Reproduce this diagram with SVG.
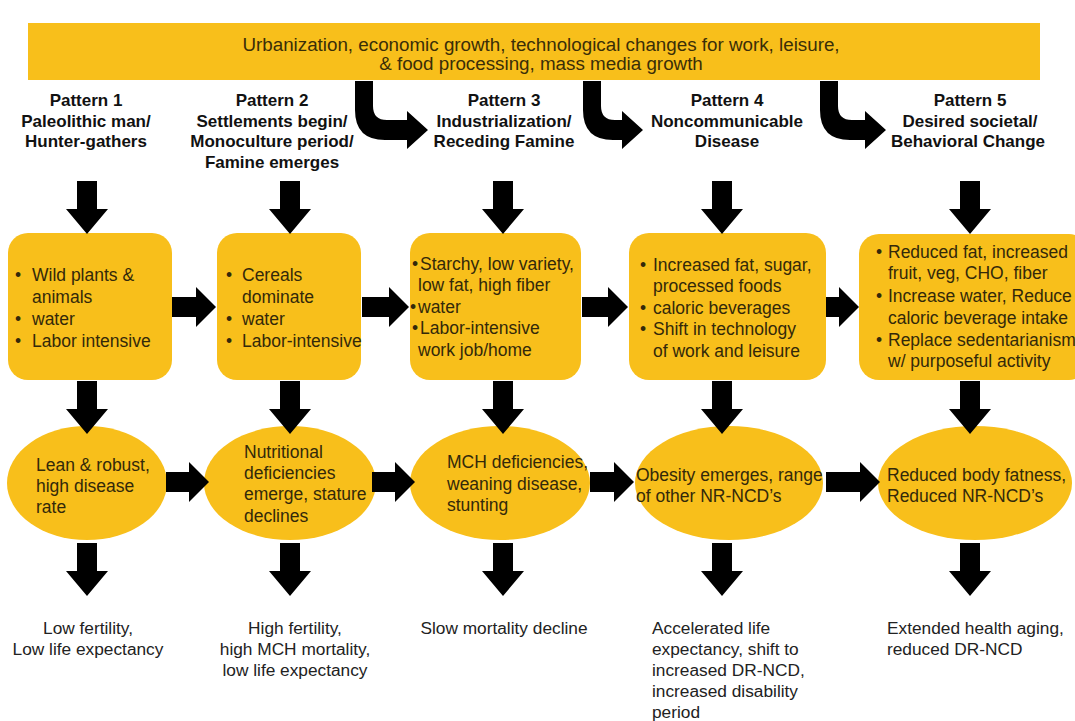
<svg xmlns="http://www.w3.org/2000/svg" width="1075" height="721" viewBox="0 0 1075 721">
<style>
.y{fill:#F8BF1B}
.ar{fill:#000}
.ban{font-family:"Liberation Sans",Arial,sans-serif;font-size:18.8px;fill:#3a2e08;text-anchor:middle}
.hd{font-family:"Liberation Sans",Arial,sans-serif;font-size:17px;font-weight:bold;fill:#111;text-anchor:middle}
.bx{font-family:"Liberation Sans",Arial,sans-serif;font-size:17.5px;fill:#33290a}
.bt{font-family:"Liberation Sans",Arial,sans-serif;font-size:17.3px;fill:#222}
.c{text-anchor:middle}
</style>
<defs>
<path id="down" d="M-10,0 H10 V28 H21 L0,53 L-21,28 H-10 Z"/>
</defs>
<rect width="1075" height="721" fill="#fff"/>

<g id="banner">
<rect class="y" x="28" y="23" width="1012" height="57"/>
<text class="ban" x="541" y="51">Urbanization, economic growth, technological changes for work, leisure,</text>
<text class="ban" x="541" y="70">&amp; food processing, mass media growth</text>
</g>

<g id="headers">
<g id="header1"><text class="hd" x="86" y="106">Pattern 1</text><text class="hd" x="86" y="127">Paleolithic man/</text><text class="hd" x="86" y="147">Hunter-gathers</text></g>
<g id="header2"><text class="hd" x="272" y="106">Pattern 2</text><text class="hd" x="272" y="127">Settlements begin/</text><text class="hd" x="272" y="147">Monoculture period/</text><text class="hd" x="272" y="168">Famine emerges</text></g>
<g id="header3"><text class="hd" x="504" y="106">Pattern 3</text><text class="hd" x="504" y="127">Industrialization/</text><text class="hd" x="504" y="147">Receding Famine</text></g>
<g id="header4"><text class="hd" x="727" y="106">Pattern 4</text><text class="hd" x="727" y="127">Noncommunicable</text><text class="hd" x="727" y="147">Disease</text></g>
<g id="header5"><text class="hd" x="970" y="106">Pattern 5</text><text class="hd" x="970" y="127">Desired societal/</text><text class="hd" x="968" y="147">Behavioral Change</text></g>
</g>

<g id="box1"><rect class="y" x="8" y="233" width="164" height="147" rx="20"/>
<text class="bx"><tspan x="15" y="281">•</tspan><tspan x="32" y="281">Wild plants &amp;</tspan><tspan x="32" y="303">animals</tspan><tspan x="15" y="325">•</tspan><tspan x="32" y="325">water</tspan><tspan x="15" y="347">•</tspan><tspan x="32" y="347">Labor intensive</tspan></text></g>
<g id="box2"><rect class="y" x="217" y="233" width="144" height="147" rx="20"/>
<text class="bx"><tspan x="226" y="281">•</tspan><tspan x="242" y="281">Cereals</tspan><tspan x="242" y="303">dominate</tspan><tspan x="226" y="325">•</tspan><tspan x="242" y="325">water</tspan><tspan x="226" y="347">•</tspan><tspan x="242" y="347">Labor-intensive</tspan></text></g>
<g id="box3"><rect class="y" x="410" y="233" width="171" height="147" rx="20"/>
<text class="bx"><tspan x="412" y="270">•</tspan><tspan x="420" y="270">Starchy, low variety,</tspan><tspan x="418" y="291">low fat, high fiber</tspan><tspan x="410" y="313">•</tspan><tspan x="418" y="313">water</tspan><tspan x="412" y="334">•</tspan><tspan x="420" y="334">Labor-intensive</tspan><tspan x="418" y="356">work job/home</tspan></text></g>
<g id="box4"><rect class="y" x="629" y="233" width="197" height="147" rx="20"/>
<text class="bx"><tspan x="640" y="271">•</tspan><tspan x="653" y="271">Increased fat, sugar,</tspan><tspan x="653" y="292">processed foods</tspan><tspan x="640" y="314">•</tspan><tspan x="653" y="314">caloric beverages</tspan><tspan x="640" y="335">•</tspan><tspan x="653" y="335">Shift in technology</tspan><tspan x="653" y="357">of work and leisure</tspan></text></g>
<g id="box5"><rect class="y" x="859" y="234" width="230" height="146" rx="20"/>
<text class="bx"><tspan x="876" y="258">•</tspan><tspan x="888" y="258">Reduced fat, increased</tspan><tspan x="888" y="279">fruit, veg, CHO, fiber</tspan><tspan x="876" y="302">•</tspan><tspan x="888" y="302">Increase water, Reduce</tspan><tspan x="888" y="324">caloric beverage intake</tspan><tspan x="876" y="346">•</tspan><tspan x="888" y="346">Replace sedentarianism</tspan><tspan x="888" y="367">w/ purposeful activity</tspan></text></g>

<g id="outcome1"><ellipse class="y" cx="87" cy="483" rx="80" ry="57"/>
<text class="bx"><tspan x="36" y="471">Lean &amp; robust,</tspan><tspan x="36" y="492">high disease</tspan><tspan x="36" y="513">rate</tspan></text></g>
<g id="outcome2"><ellipse class="y" cx="290" cy="483" rx="86" ry="57"/>
<text class="bx"><tspan x="244" y="458">Nutritional</tspan><tspan x="244" y="479">deficiencies</tspan><tspan x="244" y="500">emerge, stature</tspan><tspan x="244" y="522">declines</tspan></text></g>
<g id="outcome3"><ellipse class="y" cx="500" cy="483" rx="90" ry="57"/>
<text class="bx"><tspan x="447" y="468">MCH deficiencies,</tspan><tspan x="447" y="490">weaning disease,</tspan><tspan x="447" y="511">stunting</tspan></text></g>
<g id="outcome4"><ellipse class="y" cx="729" cy="483" rx="94" ry="57"/>
<text class="bx"><tspan x="636" y="481">Obesity emerges, range</tspan><tspan x="636" y="502">of other NR-NCD’s</tspan></text></g>
<g id="outcome5"><ellipse class="y" cx="975" cy="483" rx="97" ry="57"/>
<text class="bx"><tspan x="887" y="481">Reduced body fatness,</tspan><tspan x="887" y="502">Reduced NR-NCD’s</tspan></text></g>

<g id="result1"><text class="bt c"><tspan x="88" y="634">Low fertility,</tspan><tspan x="88" y="655">Low life expectancy</tspan></text></g>
<g id="result2"><text class="bt c"><tspan x="295" y="634">High fertility,</tspan><tspan x="295" y="655">high MCH mortality,</tspan><tspan x="295" y="676">low life expectancy</tspan></text></g>
<g id="result3"><text class="bt c"><tspan x="504" y="634">Slow mortality decline</tspan></text></g>
<g id="result4"><text class="bt"><tspan x="652" y="634">Accelerated life</tspan><tspan x="652" y="655">expectancy, shift to</tspan><tspan x="652" y="676">increased DR-NCD,</tspan><tspan x="652" y="697">increased disability</tspan><tspan x="652" y="718">period</tspan></text></g>
<g id="result5"><text class="bt"><tspan x="887" y="634">Extended health aging,</tspan><tspan x="887" y="655">reduced DR-NCD</tspan></text></g>

<g id="connectors" class="ar">
<path d="M355,81 H373 V106 Q373,120 387,120 H407 V111 L428,130 L407,149 V140 H385 Q355,140 355,110 Z"/>
<path d="M583,81 H601 V106 Q601,120 615,120 H622 V111 L643,130 L622,149 V140 H613 Q583,140 583,110 Z"/>
<path d="M820,81 H838 V106 Q838,120 852,120 H865 V111 L886,130 L865,149 V140 H850 Q820,140 820,110 Z"/>
<use href="#down" x="87" y="181"/><use href="#down" x="290" y="181"/><use href="#down" x="503" y="181"/><use href="#down" x="722" y="181"/><use href="#down" x="970" y="181"/>
<use href="#down" x="87" y="381"/><use href="#down" x="290" y="381"/><use href="#down" x="503" y="381"/><use href="#down" x="722" y="381"/><use href="#down" x="970" y="381"/>
<use href="#down" x="87" y="543"/><use href="#down" x="290" y="543"/><use href="#down" x="503" y="543"/><use href="#down" x="722" y="543"/><use href="#down" x="970" y="543"/>
<path d="M172,297 H196 V287 L216,307 L196,327 V317 H172 Z"/>
<path d="M362,297 H389 V287 L409,307 L389,327 V317 H362 Z"/>
<path d="M582,297 H608 V287 L628,307 L608,327 V317 H582 Z"/>
<path d="M826,297 H839 V287 L859,307 L839,327 V317 H826 Z"/>
<path d="M166,472 H189 V462 L209,482 L189,502 V492 H166 Z"/>
<path d="M372,472 H395 V462 L415,482 L395,502 V492 H372 Z"/>
<path d="M590,472 H614 V462 L634,482 L614,502 V492 H590 Z"/>
<path d="M826,472 H860 V462 L880,482 L860,502 V492 H826 Z"/>
</g>
</svg>
